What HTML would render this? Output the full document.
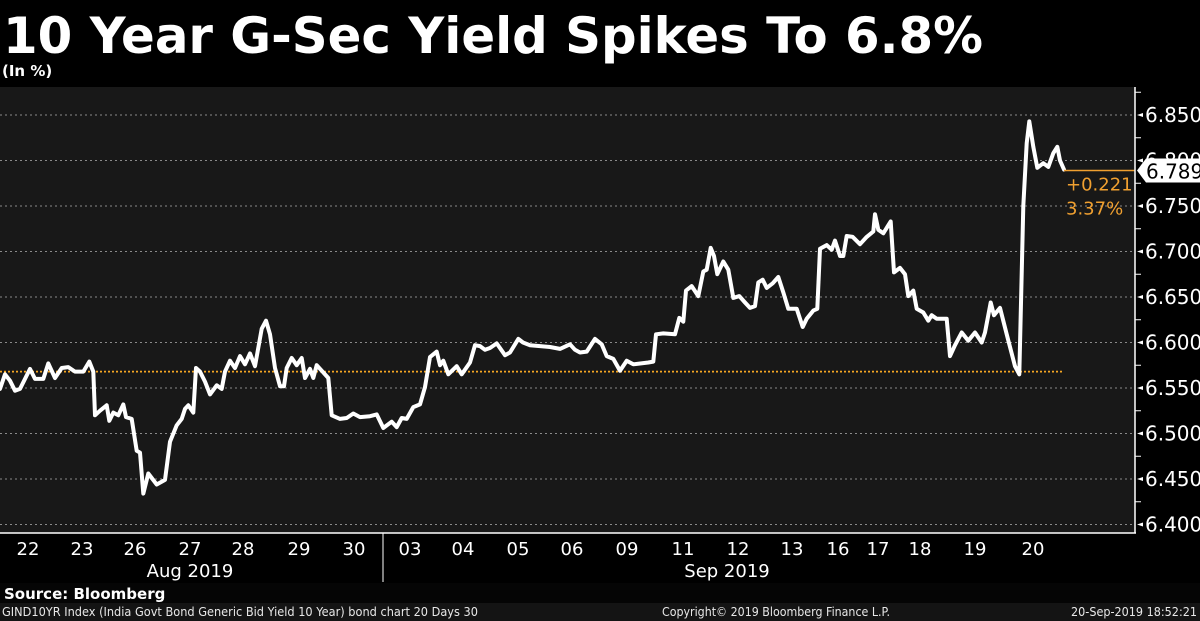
<!DOCTYPE html>
<html><head><meta charset="utf-8">
<style>
html,body{margin:0;padding:0;background:#000;}
svg{display:block;font-family:"DejaVu Sans","Liberation Sans",sans-serif;}
</style></head>
<body>
<svg id="chart" width="1200" height="621" viewBox="0 0 1200 621" xmlns="http://www.w3.org/2000/svg">
<rect x="0" y="0" width="1200" height="621" fill="#000"/>
<text x="3" y="53" fill="#fff" font-size="50" font-weight="bold" textLength="980" lengthAdjust="spacingAndGlyphs">10 Year G-Sec Yield Spikes To 6.8%</text>
<text x="2" y="76" fill="#fff" font-size="15" font-weight="bold">(In %)</text>
<rect x="0" y="87" width="1135" height="446" fill="#181818"/>
<g id="grid"></g>
<g id="series"></g>
<g id="yaxis"></g>
<g id="xaxis"></g>
<rect x="0" y="583" width="1200" height="20" fill="#050505"/>
<text x="4" y="599" fill="#fff" font-size="15" font-weight="bold">Source: Bloomberg</text>
<rect x="0" y="603" width="1200" height="18" fill="#141414"/>
<text x="2" y="616" fill="#e8e8e8" font-size="12" textLength="476" lengthAdjust="spacingAndGlyphs">GIND10YR Index (India Govt Bond Generic Bid Yield 10 Year) bond chart 20 Days 30</text>
<text x="662" y="616" fill="#e8e8e8" font-size="12" textLength="228" lengthAdjust="spacingAndGlyphs">Copyright© 2019 Bloomberg Finance L.P.</text>
<text x="1071" y="616" fill="#e8e8e8" font-size="12" textLength="126" lengthAdjust="spacingAndGlyphs">20-Sep-2019 18:52:21</text>
</svg>
<script>
// intraday sample time index (0 = start of 22 Aug session)
const sampleTime = [0,5,10,15,20,25,30,35,43.3,48.3,55,61.7,68.3,75,83.3,89.3,93.3,95,100,106.7,109.3,113.3,118.3,123.3,126,131.7,136.7,140,143.3,148.3,156.7,165,170,176.7,181.7,185,188.3,193.3,196,200,205,210,216.7,221.7,225,230,235,240,245,250,255,261.7,266,270,275,280,284,286.7,291.7,296.7,301.7,305,310,313.3,316.7,321.7,328.3,331.7,340,346.7,353.3,360,370,376.7,383.3,391.7,396.7,401.7,406.7,413.3,420,425,430,436.7,440,443.3,448.3,456.7,461.7,470,475,480,485,490,496.7,505,510,518.3,523,530,540,550,560,570,575,580,586.7,595,601.7,606.7,613.3,620,626.7,633.3,648.3,653.3,656,663.3,675,679.3,683.3,686,691.7,698.3,703.3,706.7,710.7,714,717.3,723.3,728.3,733.3,739.3,745,750,755,758.3,762.7,766.7,772.7,778.3,783.3,788.3,796.7,802.7,806.7,813.3,817.3,820,826.7,831.7,835,840,843.3,846.7,852.7,860,866.7,873.3,875,878.3,883.3,890.7,894,900,905,908.3,913.3,916.7,923.3,928.3,931.7,936.7,946.7,950,955,961.7,968.3,975,981.7,985,990.7,994,1000,1006.7,1015,1019.3,1023.3,1026.7,1029.3,1033.3,1037.3,1043.3,1048.3,1053.3,1057.3,1060,1064];
const yieldValues = [6.549,6.565,6.558,6.547,6.549,6.560,6.571,6.560,6.560,6.577,6.561,6.572,6.573,6.568,6.568,6.579,6.568,6.520,6.525,6.531,6.514,6.523,6.520,6.532,6.518,6.516,6.481,6.479,6.434,6.456,6.444,6.449,6.491,6.509,6.516,6.527,6.531,6.523,6.572,6.568,6.557,6.543,6.553,6.549,6.568,6.580,6.572,6.585,6.576,6.588,6.574,6.615,6.624,6.609,6.572,6.552,6.552,6.572,6.583,6.575,6.583,6.561,6.571,6.561,6.575,6.569,6.561,6.520,6.516,6.517,6.522,6.518,6.519,6.521,6.506,6.513,6.507,6.517,6.516,6.529,6.532,6.551,6.584,6.590,6.575,6.580,6.565,6.574,6.565,6.578,6.597,6.596,6.592,6.594,6.599,6.586,6.589,6.604,6.600,6.597,6.596,6.595,6.593,6.598,6.592,6.589,6.590,6.604,6.598,6.585,6.582,6.569,6.580,6.576,6.578,6.579,6.609,6.610,6.609,6.627,6.623,6.657,6.662,6.651,6.678,6.680,6.704,6.695,6.675,6.689,6.680,6.649,6.651,6.644,6.638,6.640,6.666,6.669,6.660,6.665,6.672,6.655,6.637,6.637,6.617,6.626,6.635,6.637,6.703,6.707,6.702,6.712,6.695,6.695,6.717,6.716,6.708,6.716,6.722,6.741,6.724,6.720,6.733,6.677,6.682,6.675,6.651,6.657,6.637,6.633,6.624,6.630,6.626,6.626,6.585,6.597,6.611,6.602,6.611,6.600,6.611,6.644,6.630,6.638,6.609,6.574,6.565,6.750,6.819,6.843,6.815,6.792,6.797,6.793,6.808,6.815,6.800,6.790];
const yTicks = [6.850,6.800,6.750,6.700,6.650,6.600,6.550,6.500,6.450,6.400];
const yTickLabels = ["6.850","6.800","6.750","6.700","6.650","6.600","6.550","6.500","6.450","6.400"];
const dayLabels = ["22","23","26","27","28","29","30","03","04","05","06","09","11","12","13","16","17","18","19","20"];
const dayTimes = [28,82,135,190,243,299,354,410,463,518,572,627,683,738,792,838,878,920,975,1033];
const monthLabels = ["Aug 2019","Sep 2019"];
const monthTimes = [190,727];
const monthBoundary = 383;
const lastValue = 6.789;
const netChange = "+0.221";
const pctChange = "3.37%";
const refValue = 6.568;

const NS="http://www.w3.org/2000/svg";
function xScale(t){return t*1.0;}
function yScale(v){return 115+(6.850-v)/0.05*45.5;}
function mk(tag,attrs,parent){const e=document.createElementNS(NS,tag);for(const k in attrs)e.setAttribute(k,attrs[k]);parent.appendChild(e);return e;}
const grid=document.getElementById('grid'),series=document.getElementById('series'),yax=document.getElementById('yaxis'),xax=document.getElementById('xaxis');

yTicks.forEach((v,i)=>{
  const g=mk('line',{x1:0,x2:1135,y1:yScale(v),y2:yScale(v),stroke:'#8a8a8a','stroke-width':1,'stroke-dasharray':'2,3'},grid);
  
  
});
const ref=mk('line',{x1:0,x2:xScale(sampleTime[sampleTime.length-1]),y1:yScale(refValue),y2:yScale(refValue),stroke:'#f5a623','stroke-width':1.8,'stroke-dasharray':'2,2'},grid);



let d='';
sampleTime.forEach((t,i)=>{d+=(i?'L':'M')+xScale(t).toFixed(1)+','+yScale(yieldValues[i]).toFixed(1);});
const path=mk('path',{d:d,fill:'none',stroke:'#fff','stroke-width':4,'stroke-linejoin':'round','stroke-linecap':'round'},series);


const lastX=xScale(sampleTime[sampleTime.length-1]);
const ll=mk('line',{x1:lastX,x2:1135,y1:yScale(lastValue),y2:yScale(lastValue),stroke:'#f0a030','stroke-width':1.5},series);


const c1=mk('text',{x:lastX+2,y:yScale(lastValue)+20,fill:'#f0a030','font-size':18},series);c1.textContent=netChange;


const c2=mk('text',{x:lastX+2,y:yScale(lastValue)+44,fill:'#f0a030','font-size':18},series);c2.textContent=pctChange;



const ax=mk('line',{x1:1135,x2:1135,y1:87,y2:533,stroke:'#fff','stroke-width':1.5},yax);


yTicks.forEach((v,i)=>{
  const y=yScale(v);
  const tk=mk('path',{d:`M1137,${y}L1143,${y-2}L1143,${y+2}Z`,fill:'#fff'},yax);
  
  
  const mt=mk('line',{x1:1135,x2:1141,y1:y-22.75,y2:y-22.75,stroke:'#fff','stroke-width':1},yax);
  
  
  const lb=mk('text',{x:1145,y:y+7,fill:'#fff','font-size':20},yax);lb.textContent=yTickLabels[i];
  
  
});
const ly=yScale(lastValue);
const box=mk('path',{d:`M1137,${ly}L1146,${ly-12}L1200,${ly-12}L1200,${ly+12}L1146,${ly+12}Z`,fill:'#fff'},yax);


const bt=mk('text',{x:1146,y:ly+8,fill:'#000','font-size':20},yax);bt.textContent=lastValue.toFixed(3);



const xl=mk('line',{x1:0,x2:1136,y1:533,y2:533,stroke:'#fff','stroke-width':1.5},xax);


const sep=mk('line',{x1:xScale(monthBoundary),x2:xScale(monthBoundary),y1:533,y2:582,stroke:'#fff','stroke-width':1},xax);


dayLabels.forEach((s,i)=>{
  const t=mk('text',{x:xScale(dayTimes[i]),y:555,fill:'#fff','font-size':18,'text-anchor':'middle'},xax);t.textContent=s;
  
  
});
monthLabels.forEach((s,i)=>{
  const t=mk('text',{x:xScale(monthTimes[i]),y:577,fill:'#fff','font-size':18,'text-anchor':'middle'},xax);t.textContent=s;
  
  
});
</script>
</body></html>
